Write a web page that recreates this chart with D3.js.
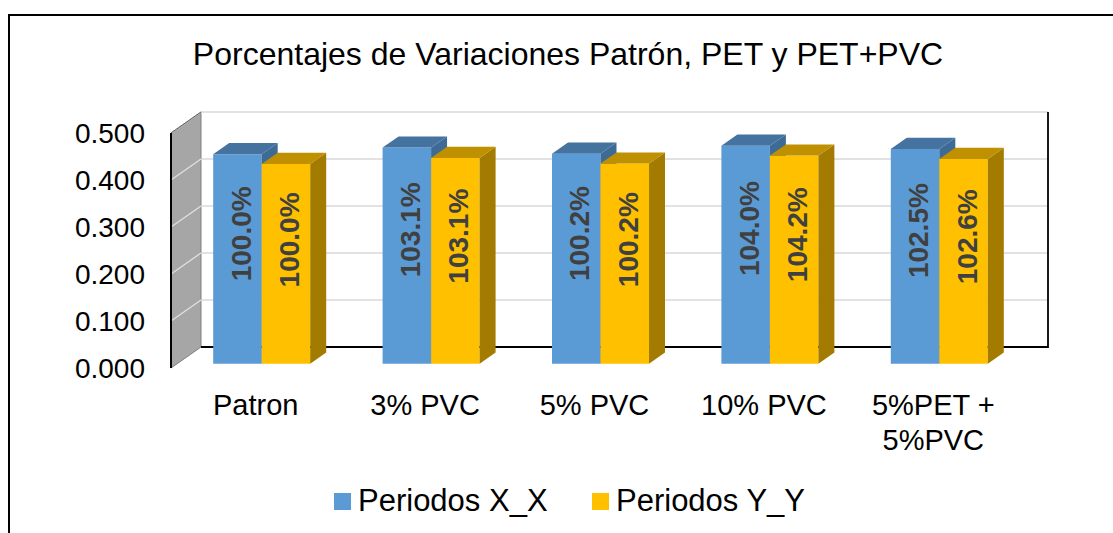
<!DOCTYPE html>
<html>
<head>
<meta charset="utf-8">
<script src="https://cdn.jsdelivr.net/npm/d3@7"></script>
<style>
  body { margin: 0; background: #fff; }
  text { font-family: "Liberation Sans", Arial, sans-serif; }
</style>
</head>
<body>
<div id="chart"></div>
<script>
// chart values
let categories = ["Patron", "3% PVC", "5% PVC", "10% PVC", "5%PET +\n5%PVC"];
let seriesNames = ["Periodos X_X", "Periodos Y_Y"];
let valuesX = [0.446, 0.460, 0.447, 0.464, 0.457];
let valuesY = [0.425, 0.438, 0.426, 0.443, 0.436];
let labelsX = ["100.0%", "103.1%", "100.2%", "104.0%", "102.5%"];
let labelsY = ["100.0%", "103.1%", "100.2%", "104.2%", "102.6%"];
let yTicks = [0, 0.1, 0.2, 0.3, 0.4, 0.5];

let svgWidth = 1113;
let svgHeight = 533;

// colours: front, top, side
let colors = [
    { front: "#5B9BD5", top: "#44739F", side: "#3E6B96" },
    { front: "#FFC000", top: "#BF9000", side: "#A37B00" }
];

// depth of the 3d box (back wall offset)
let depth = { dx: 30, dy: -21 };
let barZ0 = 0.2, barZ1 = 0.733;

let svg = d3.select("#chart")
    .append("svg")
    .attr("width", svgWidth)
    .attr("height", svgHeight);

// outer border (left + top only)
svg.append("path")
    .attr("d", "M9,533 L9,15 L1113,15")
    .attr("fill", "none")
    .attr("stroke", "#000")
    .attr("stroke-width", 2);

// title
svg.append("text")
    .attr("x", 568)
    .attr("y", 65)
    .attr("text-anchor", "middle")
    .attr("font-size", "32px")
    .attr("fill", "#000")
    .text("Porcentajes de Variaciones Patrón, PET y PET+PVC");

// scales in the front plane
let x0 = d3.scaleBand()
    .domain(categories)
    .range([171, 1018]);

let x1 = d3.scaleBand()
    .domain([0, 1])
    .range([0, x0.bandwidth()])
    .paddingInner(0)
    .paddingOuter(0.746);

let y = d3.scaleLinear()
    .domain([0, 0.5])
    .range([368, 133]);

// project point at depth z (0 = front, 1 = back)
function px(x, z) { return x + depth.dx * z; }
function py(v, z) { return y(v) + depth.dy * z; }

let xMin = x0.range()[0], xMax = x0.range()[1];

// side wall
svg.append("path")
    .attr("d", `M${px(xMin,0)},${py(0,0)} L${px(xMin,0)},${py(0.5,0)} L${px(xMin,1)},${py(0.5,1)} L${px(xMin,1)},${py(0,1)} Z`)
    .attr("fill", "#A6A6A6")
    .attr("stroke", "#7F7F7F")
    .attr("stroke-width", 1);

// gridlines on side and back wall
let grid = svg.append("g");
yTicks.filter(t => t > 0).forEach(t => {
    grid.append("line")
        .attr("x1", px(xMin,0)).attr("y1", py(t,0))
        .attr("x2", px(xMin,1)).attr("y2", py(t,1))
        .attr("stroke", "#E0E0E0").attr("stroke-width", 1.3);
    grid.append("line")
        .attr("x1", px(xMin,1)).attr("y1", py(t,1))
        .attr("x2", px(xMax,1)).attr("y2", py(t,1))
        .attr("stroke", "#D9D9D9").attr("stroke-width", 1.3);
});

// side wall front edge
svg.append("line")
    .attr("x1", px(xMin,0)).attr("y1", py(0,0))
    .attr("x2", px(xMin,0)).attr("y2", py(0.5,0))
    .attr("stroke", "#000").attr("stroke-width", 2);
svg.append("line")
    .attr("x1", px(xMin,0)).attr("y1", py(0.5,0))
    .attr("x2", px(xMin,1)).attr("y2", py(0.5,1))
    .attr("stroke", "#595959").attr("stroke-width", 1);

// back wall floor + right edge
svg.append("path")
    .attr("d", `M${px(xMin,1)},${py(0,1)} L${px(xMax,1)},${py(0,1)} L${px(xMax,1)},${py(0.5,1)}`)
    .attr("fill", "none")
    .attr("stroke", "#000")
    .attr("stroke-width", 1.8);

// y axis labels
svg.append("g")
    .selectAll("text")
    .data(yTicks)
    .enter()
    .append("text")
    .attr("x", 145)
    .attr("y", d => y(d))
    .attr("dy", "0.36em")
    .attr("text-anchor", "end")
    .attr("font-size", "28px")
    .attr("fill", "#000")
    .text(d => d3.format(".3f")(d));

// bars
let rows = categories.map((c, i) => ({
    cat: c,
    vals: [valuesX[i], valuesY[i]],
    labels: [labelsX[i], labelsY[i]]
}));

let barsGroup = svg.append("g");
rows.forEach(row => {
    row.vals.forEach((v, s) => {
        let xa = x0(row.cat) + x1(s);
        let xb = xa + x1.bandwidth();
        let c = colors[s];
        let g = barsGroup.append("g");
        // front face
        g.append("path")
            .attr("d", `M${px(xa,barZ0)},${py(0,barZ0)} L${px(xb,barZ0)},${py(0,barZ0)} L${px(xb,barZ0)},${py(v,barZ0)} L${px(xa,barZ0)},${py(v,barZ0)} Z`)
            .attr("fill", c.front);
        // side face
        g.append("path")
            .attr("d", `M${px(xb,barZ0)},${py(0,barZ0)} L${px(xb,barZ1)},${py(0,barZ1)} L${px(xb,barZ1)},${py(v,barZ1)} L${px(xb,barZ0)},${py(v,barZ0)} Z`)
            .attr("fill", c.side);
        // top face
        g.append("path")
            .attr("d", `M${px(xa,barZ0)},${py(v,barZ0)} L${px(xb,barZ0)},${py(v,barZ0)} L${px(xb,barZ1)},${py(v,barZ1)} L${px(xa,barZ1)},${py(v,barZ1)} Z`)
            .attr("fill", c.top);
    });
    // labels drawn after both bars
    row.vals.forEach((v, s) => {
        let xa = x0(row.cat) + x1(s);
        let cx = px(xa + x1.bandwidth() / 2, barZ0) + 3;
        let cy = py(v * 0.62, barZ0);
        barsGroup.append("text")
            .attr("transform", `translate(${cx},${cy}) rotate(-90)`)
            .attr("dy", "0.36em")
            .attr("text-anchor", "middle")
            .attr("font-size", "28px")
            .attr("font-weight", "bold")
            .attr("fill", "#404040")
            .text(row.labels[s]);
    });
});

// category labels
let catGroup = svg.append("g");
categories.forEach(c => {
    let t = catGroup.append("text")
        .attr("x", x0(c) + x0.bandwidth() / 2)
        .attr("y", 415)
        .attr("text-anchor", "middle")
        .attr("font-size", "29px")
        .attr("fill", "#000");
    c.split("\n").forEach((line, i) => {
        t.append("tspan")
            .attr("x", x0(c) + x0.bandwidth() / 2)
            .attr("dy", i === 0 ? 0 : 35)
            .text(line);
    });
});

// legend
let legendX = [334, 592];
let legend = svg.append("g");
seriesNames.forEach((name, i) => {
    legend.append("rect")
        .attr("x", legendX[i])
        .attr("y", 493)
        .attr("width", 17)
        .attr("height", 17)
        .attr("fill", colors[i].front);
    legend.append("text")
        .attr("x", legendX[i] + 24)
        .attr("y", 511)
        .attr("font-size", "31px")
        .attr("fill", "#000")
        .text(name);
});
</script>
</body>
</html>
